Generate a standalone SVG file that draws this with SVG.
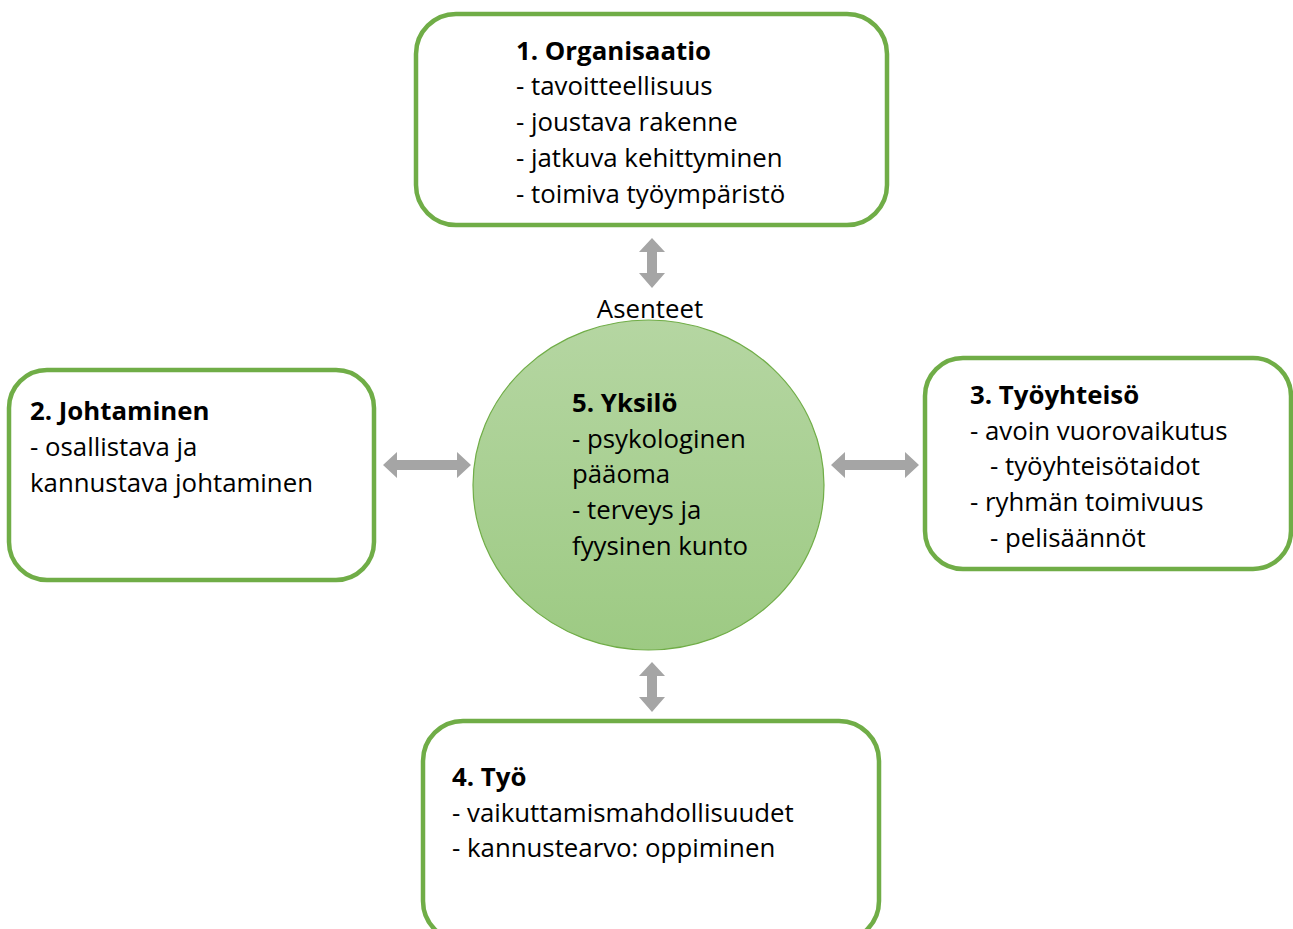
<svg xmlns="http://www.w3.org/2000/svg" width="1293" height="929" viewBox="0 0 1293 929">
<defs>
<linearGradient id="cg" x1="0" y1="0" x2="0" y2="1">
<stop offset="0" stop-color="#b5d6a2"/>
<stop offset="1" stop-color="#9dca83"/>
</linearGradient>
</defs>
<style>
.box{fill:#ffffff;stroke:#70ad47;stroke-width:4.5}
.t{font-family:"Open Sans","Liberation Sans",Arial,sans-serif;font-size:25.8px;fill:#000}
.b{font-weight:bold}
.arr{fill:#a5a5a5}
</style>
<rect width="1293" height="929" fill="#ffffff"/>
<g id="connectors">
<path class="arr" d="M652,238 L665,252 L657,252 L657,273 L665,273 L652,288 L639,273 L647,273 L647,252 L639,252 Z"/>
<path class="arr" d="M652,662 L665,676 L657,676 L657,697 L665,697 L652,712 L639,697 L647,697 L647,676 L639,676 Z"/>
<path class="arr" d="M383,465 L397,452 L397,460 L457,460 L457,452 L471,465 L457,478 L457,470 L397,470 L397,478 Z"/>
<path class="arr" d="M831,465 L845,452 L845,460 L905,460 L905,452 L919,465 L905,478 L905,470 L845,470 L845,478 Z"/>
</g>
<g id="node1">
<rect class="box" x="416" y="14" width="471" height="211" rx="40"/>
<text class="t b" x="516" y="60">1. Organisaatio</text>
<text class="t" x="516" y="95">- tavoitteellisuus</text>
<text class="t" x="516" y="131">- joustava rakenne</text>
<text class="t" x="516" y="167">- jatkuva kehittyminen</text>
<text class="t" x="516" y="203">- toimiva työympäristö</text>
</g>
<g id="node2">
<rect class="box" x="9" y="370" width="365" height="210" rx="38"/>
<text class="t b" x="30" y="420">2. Johtaminen</text>
<text class="t" x="30" y="456">- osallistava ja</text>
<text class="t" x="30" y="492">kannustava johtaminen</text>
</g>
<g id="node3">
<rect class="box" x="925" y="358" width="366" height="211" rx="38"/>
<text class="t b" x="970" y="404">3. Työyhteisö</text>
<text class="t" x="970" y="440">- avoin vuorovaikutus</text>
<text class="t" x="990" y="475">- työyhteisötaidot</text>
<text class="t" x="970" y="511">- ryhmän toimivuus</text>
<text class="t" x="990" y="547">- pelisäännöt</text>
</g>
<g id="node4">
<rect class="box" x="423" y="721" width="456" height="220" rx="40"/>
<text class="t b" x="452" y="786">4. Työ</text>
<text class="t" x="452" y="822">- vaikuttamismahdollisuudet</text>
<text class="t" x="452" y="857">- kannustearvo: oppiminen</text>
</g>
<g id="node5">
<text class="t" x="650" y="318" text-anchor="middle">Asenteet</text>
<ellipse cx="648.5" cy="485" rx="175.5" ry="165" fill="url(#cg)" stroke="#70ad47" stroke-width="1.2"/>
<text class="t b" x="572" y="412">5. Yksilö</text>
<text class="t" x="572" y="448">- psykologinen</text>
<text class="t" x="572" y="483">pääoma</text>
<text class="t" x="572" y="519">- terveys ja</text>
<text class="t" x="572" y="555">fyysinen kunto</text>
</g>
</svg>
